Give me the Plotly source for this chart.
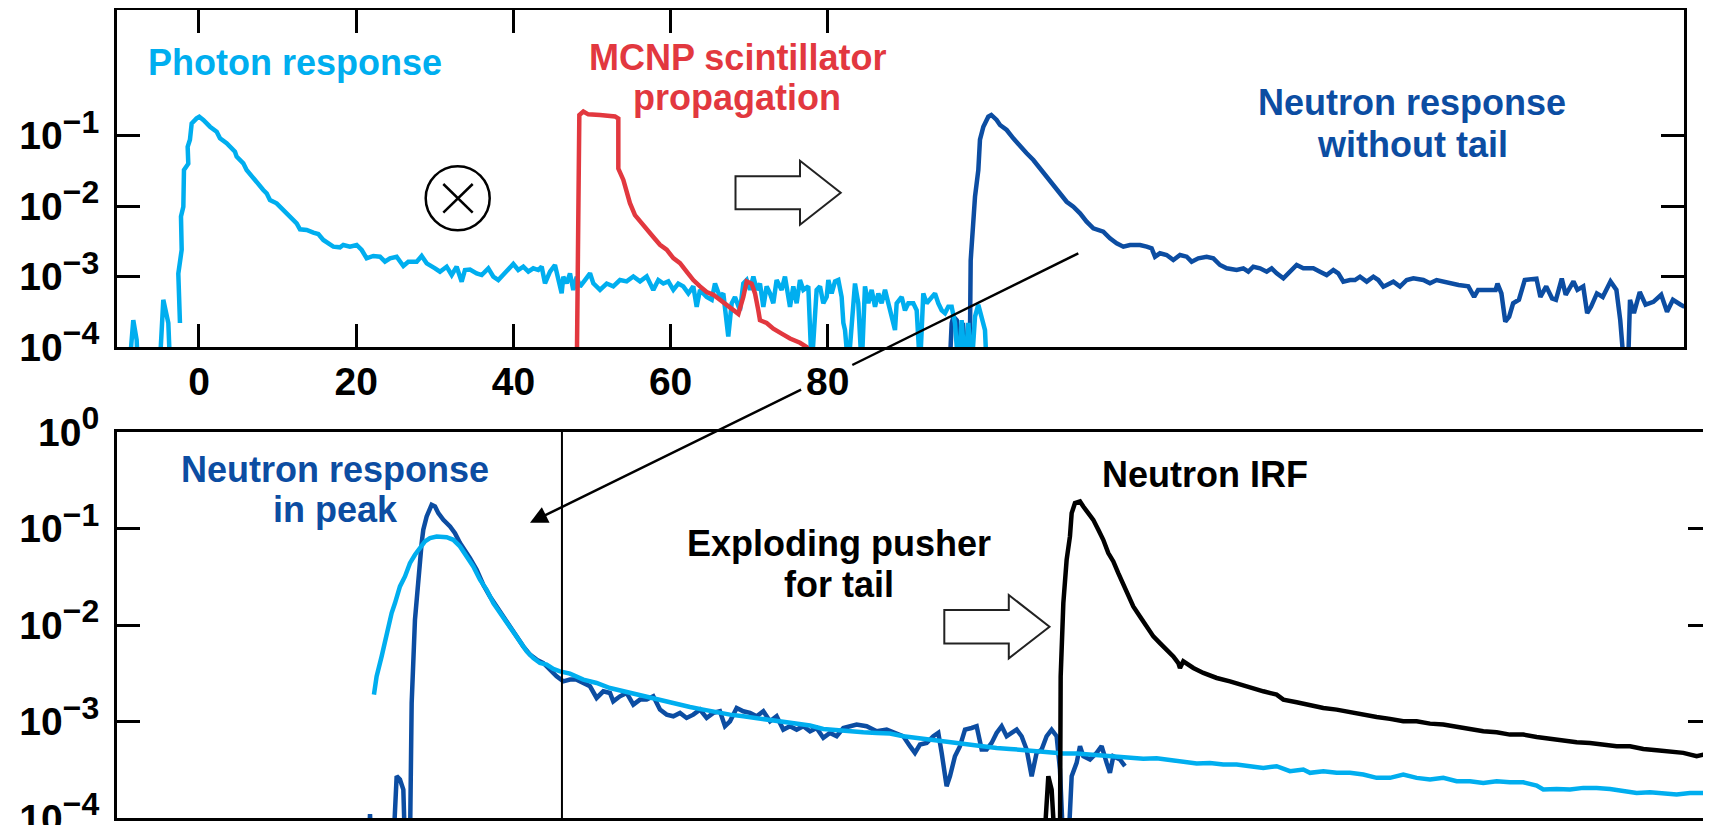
import plotly.graph_objects as go

# ---------------- data (x in ns, y given as log10 of the normalized response) ----------------
photon_x = [-9.0, -8.36, -7.93, -7.7, -5.1, -4.54, -3.9, -3.6, None,
            -2.42, -2.63, -2.2, -2.29, -1.99, -1.91, -1.36, -1.44, -1.15, -0.93, -0.3, 0.04, 0.55, 1.4,
            2.25, 2.67, 3.52, 4.58, 4.79, 5.64, 6.06, 6.91, 7.34, 8.18, 8.61, 9.03, 9.88, 10.73, 11.58,
            12.43, 12.85, 13.7, 14.55, 15.18, 15.82, 16.45, 17.09, 17.94, 18.36, 19.21, 20.06, 20.7,
            21.33, 22.18, 23.03, 23.66, 24.3, 25.15, 26.0, 26.63, 27.7, 28.33, 28.97, 30.03, 30.66,
            31.51, 32.15, 32.78, 33.42, 33.84, 34.48, 35.33, 35.97, 36.81, 37.45, 38.08, 38.72, 39.57,
            39.99, 40.62, 41.26, 41.9, 42.53, 43.17, 43.6, 44.02, 44.66, 45.29, 45.71, 46.14, 46.35,
            46.78, 47.2, 47.62, 48.05, 48.47, 49.11, 49.75, 50.17, 50.6,
            51.02, 51.87, 52.71, 53.56, 54.41, 55.26, 56.11, 56.96, 57.80, 58.44, 59.08, 59.71, 60.35,
            60.98, 61.62, 62.26, 62.89, 63.32, 63.74, 64.59, 65.23, 65.65, 66.28, 66.71, 67.13, 67.34,
            67.77, 68.19, 68.83, 69.25, 69.68, 70.10, 70.53, 70.95, 71.37, 71.80, 72.22, 72.65, 73.07,
            73.49, 74.13, 74.55, 75.19, 75.61, 76.04, 76.46, 76.89, 77.52, 77.95, 78.37, 78.58, 79.01,
            79.43, 79.86, 80.07, 80.49, 80.92, 81.34, 81.76, 81.98, 82.19, 82.61, 83.04, 83.46, 83.88,
            84.31, 84.73, 85.16, 85.58, 86.01, 86.43, 86.85, 87.28, 87.70, 88.13, 88.55, 88.76, 89.40,
            89.82, 90.25, 90.88, 91.31, 91.73, 92.15, 92.58, 93.21, 93.64, 94.06, 94.49, 94.91, 95.33,
            95.76, 96.18, 96.61, 97.03, 97.46, 97.88, 98.30, 98.73, 99.15, 99.58, 100.0, 100.21]
photon_log10 = [-4.5, -3.62, -3.90, -4.5, -4.5, -3.33, -3.66, -4.5, None,
                -3.66, -2.96, -2.62, -2.15, -2.01, -1.49, -1.40, -1.16, -1.06, -0.83, -0.757, -0.733,
                -0.78, -0.875, -0.946, -1.04, -1.11, -1.23, -1.30, -1.395, -1.489, -1.607, -1.678,
                -1.773, -1.82, -1.915, -1.962, -2.057, -2.151, -2.246, -2.331, -2.34, -2.378, -2.397,
                -2.482, -2.539, -2.577, -2.586, -2.553, -2.577, -2.553, -2.624, -2.742, -2.709, -2.719,
                -2.79, -2.742, -2.719, -2.851, -2.79, -2.79, -2.709, -2.813, -2.884, -2.932, -2.861,
                -2.979, -2.861, -3.074, -2.908, -2.90, -2.955, -2.979, -2.884, -3.003, -3.05, -2.979,
                -2.884, -2.823, -2.908, -2.861, -2.932, -2.884, -2.908, -2.861, -3.097, -2.932, -2.837,
                -3.05, -3.239, -3.003, -3.097, -2.955, -3.191, -3.003, -3.144, -3.05, -2.955, -3.097,
                -3.144,
                -3.19, -3.10, -3.14, -3.05, -3.07, -3.00, -3.07, -3.00, -3.19, -3.05, -3.10, -3.07,
                -3.19, -3.10, -3.14, -3.24, -3.14, -3.43, -3.19, -3.29, -3.33, -3.10, -3.29, -3.24,
                -3.66, -3.85, -3.38, -3.29, -3.48, -3.10, -3.05, -3.19, -3.00, -3.19, -3.10, -3.43,
                -3.14, -3.24, -3.38, -3.05, -3.19, -3.00, -3.43, -3.14, -3.38, -3.05, -3.19, -3.14,
                -4.3, -3.66, -3.19, -3.14, -3.38, -3.29, -3.05, -3.24, -3.07, -3.05, -3.29, -3.66,
                -3.76, -4.3, -3.66, -3.10, -3.38, -4.3, -3.14, -3.38, -3.19, -3.43, -3.24, -3.38,
                -3.19, -3.38, -3.57, -3.76, -3.38, -3.29, -3.48, -3.38, -3.38, -3.48, -4.3, -3.24,
                -3.38, -3.29, -3.24, -3.38, -3.48, -3.52, -3.43, -3.43, -3.66, -4.3, -3.62, -4.3,
                -3.66, -4.3, -3.57, -3.40, -3.57, -3.76, -4.3]

mcnp_x = [48.05, 48.39, 48.9, 49.53, 51.02, 51.65, 52.93, 53.35, 53.35, 53.99, 54.41, 54.83, 55.47,
          56.32, 56.96, 57.80, 58.65, 59.50, 60.35, 61.20, 62.04, 62.89, 63.74, 64.59, 65.44, 66.28,
          67.13, 67.98, 68.62, 69.25, 69.68, 70.31, 70.74, 71.16, 71.37, 72.22, 73.07, 74.13, 75.19,
          76.46, 77.31, 78.0]
mcnp_log10 = [-4.5, -0.71, -0.66, -0.70, -0.71, -0.72, -0.73, -0.76, -1.47, -1.63, -1.82, -1.96,
              -2.13, -2.25, -2.34, -2.44, -2.55, -2.62, -2.74, -2.81, -2.93, -3.05, -3.14, -3.22,
              -3.26, -3.33, -3.40, -3.48, -3.53, -3.29, -3.07, -3.10, -3.24, -3.48, -3.62, -3.66,
              -3.74, -3.81, -3.88, -3.94, -4.0, -4.2]

neutron_x = [95.5, 95.76, 96.0, 96.4, 96.8, 97.2, 97.6, 98.05, 98.18, 98.73, 99.15, 99.36, 99.79,
             100.42, 100.8, 101.48, 101.91, 102.76, 103.6, 104.45, 105.3, 106.15, 107.0, 107.84,
             108.69, 109.54, 110.39, 111.24, 112.09, 112.93, 113.78, 115.05, 115.90, 116.75, 117.60,
             118.45, 119.72, 120.57, 121.20, 121.63, 122.26, 123.11, 123.96, 124.81, 125.66, 126.29,
             127.14, 128.20, 129.05, 129.90, 130.75, 132.02, 132.87, 133.50, 134.14, 134.99, 135.84,
             136.47, 137.11, 137.96, 138.80, 139.65, 140.50, 141.77, 142.62, 143.47, 144.32, 144.95,
             145.59, 146.44, 147.07, 147.71, 148.56, 149.41, 150.04, 150.68, 151.95, 152.80, 153.65,
             154.50, 155.77, 156.61, 157.46, 158.31, 159.16, 160.25, 161.49, 162.23, 162.73, 164.21,
             164.96, 165.2, 165.7, 166.19, 166.69, 167.19, 167.93, 168.67, 170.16, 170.66, 171.40,
             172.14, 172.64, 173.38, 173.88, 174.87, 175.37, 176.11, 176.61, 177.10, 177.85, 178.59,
             179.58, 180.33, 180.82, 181.32, 181.81, 182.06, 182.56, 183.30, 184.04, 185.04, 186.03,
             186.77, 187.52, 188.51, 189.0]
neutron_log10 = [-4.3, -3.66, -3.57, -3.62, -4.3, -3.66, -4.3, -4.3, -2.77, -1.87, -1.49, -1.06,
                 -0.875, -0.733, -0.709, -0.78, -0.851, -0.922, -1.04, -1.158, -1.253, -1.348,
                 -1.466, -1.584, -1.726, -1.82, -1.94, -2.01, -2.104, -2.222, -2.317, -2.364, -2.459,
                 -2.53, -2.577, -2.553, -2.553, -2.577, -2.6, -2.719, -2.671, -2.695, -2.766, -2.695,
                 -2.719, -2.79, -2.742, -2.719, -2.742, -2.837, -2.884, -2.908, -2.884, -2.932,
                 -2.861, -2.884, -2.932, -2.884, -2.955, -3.026, -2.932, -2.837, -2.884, -2.884,
                 -2.932, -2.979, -2.908, -2.955, -3.073, -3.05, -3.05, -3.003, -3.073, -3.003, -3.05,
                 -3.144, -3.073, -3.144, -3.05, -3.026, -3.05, -3.097, -3.05, -3.073, -3.097, -3.12,
                 -3.14, -3.29, -3.19, -3.20, -3.19, -3.10, -3.24, -3.64, -3.57, -3.38, -3.33, -3.05,
                 -3.03, -3.29, -3.14, -3.31, -3.33, -3.03, -3.26, -3.07, -3.19, -3.14, -3.52, -3.43,
                 -3.24, -3.29, -3.07, -3.19, -3.62, -4.3, -4.3, -3.33, -3.52, -3.22, -3.40, -3.36,
                 -3.26, -3.50, -3.33, -3.40, -3.43]

# bottom panel
peak_x = [21.6, 21.76, 21.95, 24.72, 25.15, 25.57, 26.0, 26.21, 26.84, 27.06, 27.48, 27.91, 28.12,
          28.33, 28.54, 28.97, 29.60, 30.03, 30.45, 31.09, 31.94, 32.57, 33.21, 33.84, 34.48, 35.33,
          36.17, 37.02, 37.87, 38.72, 39.57, 40.42, 41.26, 42.11, 42.96, 43.81, 44.66, 45.50, 46.35,
          47.20, 48.05, 48.90, 49.75, 50.59, 51.44, 52.29, 52.71, 53.56, 54.41, 55.26, 56.11, 56.96,
          57.80, 58.65, 59.50, 60.35, 61.20, 62.04, 62.89, 63.74, 64.59, 65.44, 66.28, 66.92, 67.56,
          68.41, 69.25, 70.10, 70.95, 71.80, 72.65, 73.49, 74.34, 75.19, 76.04, 76.89, 77.74, 78.58,
          79.43, 80.28, 81.13, 81.98, 82.82, 83.67, 84.94, 86.22, 87.49, 88.76, 89.61, 90.46, 91.09,
          91.73, 92.58, 93.43, 94.06, 94.49, 95.12, 95.55, 96.18, 96.82, 97.46, 98.30, 98.94, 99.58,
          100.21, 100.85, 101.48, 102.12, 102.76, 103.39, 104.03, 104.66, 105.30, 105.94, 106.57,
          107.21, 107.84, 108.48, 109.12, 109.54, 109.97, 110.60, 111.03, 111.66, 112.09, 112.51,
          113.36, 114.21, 114.84, 115.48, 115.90, 116.33, 117.18, 117.81]
peak_log10 = [-4.3, -3.96, -4.3, -4.3, -3.567, -3.601, -3.705, -4.3, -4.3, -2.808, -1.945, -1.531,
              -1.255, -1.151, -1.013, -0.875, -0.755, -0.772, -0.841, -0.91, -0.979, -1.048, -1.151,
              -1.22, -1.307, -1.428, -1.583, -1.704, -1.807, -1.928, -2.031, -2.135, -2.221, -2.307,
              -2.359, -2.394, -2.463, -2.532, -2.584, -2.566, -2.566, -2.601, -2.635, -2.756, -2.687,
              -2.704, -2.791, -2.739, -2.704, -2.825, -2.773, -2.773, -2.739, -2.877, -2.929, -2.946,
              -2.911, -2.963, -2.929, -2.877, -2.963, -2.911, -2.894, -3.049, -2.998, -2.86, -2.894,
              -2.911, -2.946, -2.894, -2.998, -2.946, -3.084, -3.049, -3.084, -3.049, -3.101, -3.067,
              -3.17, -3.118, -3.153, -3.067, -3.049, -3.032, -3.049, -3.101, -3.084, -3.118, -3.153,
              -3.256, -3.325, -3.239, -3.222, -3.153, -3.118, -3.325, -3.67, -3.567, -3.36, -3.256,
              -3.084, -3.067, -3.049, -3.291, -3.291, -3.222, -3.118, -3.049, -3.153, -3.118, -3.084,
              -3.153, -3.291, -3.567, -3.325, -3.291, -3.153, -3.084, -3.153, -3.498, -4.3, -4.3,
              -3.567, -3.429, -3.256, -3.36, -3.394, -3.325, -3.256, -3.429, -3.532, -3.36, -3.394,
              -3.463]

pusher_x = [22.26, 22.60, 23.24, 23.88, 24.51, 24.94, 25.57, 26.21, 26.84, 27.48, 28.12, 28.75, 29.39,
            30.24, 31.51, 32.36, 33.21, 34.05, 34.90, 35.75, 36.60, 37.45, 38.30, 39.14, 39.99, 40.84,
            41.69, 42.54, 43.38, 44.23, 45.08, 45.93, 47.2, 48.9, 50.59, 52.29, 53.99, 55.68, 57.38,
            59.08, 60.77, 62.47, 64.16, 65.86, 67.56, 69.25, 70.95, 72.65, 74.34, 76.04, 77.74, 79.43,
            81.13, 82.82, 84.52, 86.22, 87.91, 89.61, 91.31, 93.0, 94.70, 96.40, 98.09, 99.79, 101.48,
            103.18, 104.88, 106.57, 108.27, 109.97, 111.66, 113.36, 115.05, 116.75, 118.45, 120.14,
            121.84, 123.54, 125.23, 126.93, 128.63, 130.32, 132.02, 133.72, 135.41, 137.11, 138.80,
            140.50, 141.35, 143.05, 144.74, 146.44, 148.13, 149.83, 151.53, 153.22, 154.92, 156.62,
            158.31, 160.01, 161.70, 163.40, 165.10, 166.79, 168.49, 170.19, 171.03, 172.73, 174.43,
            176.12, 177.82, 179.52, 181.21, 182.91, 184.61, 186.30, 188.0, 189.69, 191.39, 192.37]
pusher_log10 = [-2.722, -2.532, -2.325, -2.083, -1.876, -1.773, -1.6, -1.497, -1.359, -1.272, -1.203,
                -1.134, -1.1, -1.083, -1.09, -1.117, -1.186, -1.29, -1.393, -1.531, -1.635, -1.773,
                -1.876, -1.98, -2.083, -2.187, -2.273, -2.342, -2.394, -2.411, -2.456, -2.48, -2.504,
                -2.566, -2.601, -2.653, -2.687, -2.722, -2.756, -2.791, -2.825, -2.849, -2.877,
                -2.904, -2.929, -2.946, -2.963, -2.987, -3.008, -3.022, -3.042, -3.077, -3.091,
                -3.101, -3.111, -3.118, -3.125, -3.153, -3.17, -3.187, -3.215, -3.229, -3.239,
                -3.256, -3.274, -3.284, -3.298, -3.308, -3.319, -3.332, -3.332, -3.343, -3.353,
                -3.367, -3.367, -3.387, -3.38, -3.401, -3.422, -3.436, -3.43, -3.446, -3.446, -3.463,
                -3.481, -3.463, -3.515, -3.498, -3.532, -3.515, -3.532, -3.532, -3.55, -3.584, -3.584,
                -3.55, -3.584, -3.601, -3.584, -3.619, -3.619, -3.636, -3.619, -3.63, -3.63, -3.664,
                -3.705, -3.70, -3.705, -3.688, -3.688, -3.70, -3.722, -3.74, -3.733, -3.74, -3.757,
                -3.74, -3.74, -3.722]

irf_x = [107.5, 108.06, 108.48, 108.91, 109.54, 109.63, 109.97, 110.39, 110.81, 111.03, 111.45, 112.09,
         112.51, 113.15, 113.78, 114.42, 115.05, 115.69, 116.33, 116.96, 117.60, 118.24, 118.87,
         119.72, 120.57, 121.42, 122.26, 123.11, 123.96, 124.60, 124.81, 125.23, 126.51, 127.78,
         129.48, 131.17, 132.87, 133.72, 135.41, 137.11, 137.96, 139.65, 141.35, 143.05, 144.74,
         146.44, 148.13, 149.83, 151.53, 153.22, 154.92, 156.62, 158.31, 160.01, 161.70, 163.40,
         165.10, 166.79, 168.49, 170.19, 171.88, 173.58, 175.28, 176.97, 178.67, 180.37, 182.06,
         183.76, 185.46, 187.15, 188.85, 190.54, 192.37]
irf_log10 = [-4.3, -3.567, -3.705, -4.3, -4.3, -2.532, -1.773, -1.324, -1.083, -0.841, -0.737, -0.72,
             -0.772, -0.841, -0.91, -1.013, -1.117, -1.255, -1.341, -1.462, -1.583, -1.704, -1.807,
             -1.911, -2.014, -2.118, -2.187, -2.256, -2.325, -2.394, -2.445, -2.376, -2.445, -2.497,
             -2.549, -2.584, -2.628, -2.653, -2.687, -2.722, -2.773, -2.801, -2.835, -2.86, -2.877,
             -2.904, -2.929, -2.953, -2.973, -2.998, -2.998, -3.022, -3.032, -3.049, -3.077, -3.101,
             -3.111, -3.136, -3.136, -3.16, -3.18, -3.194, -3.215, -3.222, -3.239, -3.256, -3.256,
             -3.284, -3.298, -3.308, -3.325, -3.36, -3.325]

peak_divider_x = 46.18

top_xticks = [0, 20, 40, 60, 80]
top_ytick_vals = [1e-4, 1e-3, 1e-2, 1e-1]
top_ytick_exp = ["−4", "−3", "−2", "−1"]
bot_ytick_vals = [1e-4, 1e-3, 1e-2, 1e-1, 1e0]
bot_ytick_exp = ["−4", "−3", "−2", "−1", "0"]
inner_ytick_vals = [1e-3, 1e-2, 1e-1]

# ---------------- styling ----------------
LIGHT = "#00aeef"
DARK = "#0c4da2"
RED = "#e2383f"
BLACK = "#000000"
FONT = "Liberation Sans, Arial, Helvetica, sans-serif"
LW = 4.5

PAGE_OFFSET = 8                    # the page body offsets the figure by 8 px
L, T, W, H = 117, 10, 1594, 808    # plot area in picture pixels
FIG_W, FIG_H = 1711 - PAGE_OFFSET, 825 - PAGE_OFFSET


def px(X):
    return (X - L) / W


def py(Y):
    return (T + H - Y) / H


def lin(v):
    return [None if a is None else 10 ** a for a in v]


def pow_label(e):
    return f"10<sup><span style='font-size:32px'>{e}</span></sup>"


fig = go.Figure()
fig.add_trace(go.Scatter(x=neutron_x, y=lin(neutron_log10), mode="lines",
                         line=dict(color=DARK, width=LW), xaxis="x", yaxis="y"))
fig.add_trace(go.Scatter(x=photon_x, y=lin(photon_log10), mode="lines",
                         line=dict(color=LIGHT, width=LW), xaxis="x", yaxis="y"))
fig.add_trace(go.Scatter(x=mcnp_x, y=lin(mcnp_log10), mode="lines",
                         line=dict(color=RED, width=LW), xaxis="x", yaxis="y"))
fig.add_trace(go.Scatter(x=peak_x, y=lin(peak_log10), mode="lines",
                         line=dict(color=DARK, width=LW), xaxis="x2", yaxis="y2"))
fig.add_trace(go.Scatter(x=pusher_x, y=lin(pusher_log10), mode="lines",
                         line=dict(color=LIGHT, width=LW), xaxis="x2", yaxis="y2"))
fig.add_trace(go.Scatter(x=irf_x, y=lin(irf_log10), mode="lines",
                         line=dict(color=BLACK, width=LW), xaxis="x2", yaxis="y2"))
# empty trace that carries the right-hand tick axis of the lower panel
fig.add_trace(go.Scatter(x=[], y=[], mode="lines", xaxis="x2", yaxis="y3", hoverinfo="skip"))

tickfont = dict(family=FONT, size=39, color="black", weight="bold")
base = dict(showgrid=False, zeroline=False, automargin=False, tickcolor="black",
            linecolor="black", linewidth=3, tickfont=tickfont, ticklen=23, tickwidth=3,
            ticklabeloverflow="allow")

fig.update_layout(
    width=FIG_W, height=FIG_H,
    margin=dict(l=L - PAGE_OFFSET, r=0, t=T - PAGE_OFFSET, b=825 - T - H, autoexpand=False),
    paper_bgcolor="white", plot_bgcolor="white",
    showlegend=False,
    xaxis=dict(domain=[0, px(1684)], range=[-10.43, 188.93], anchor="y", ticks="inside",
               tickvals=top_xticks, showline=True, mirror="ticks",
               ticklabelstandoff=-2, **base),
    yaxis=dict(domain=[py(347), 1], type="log", range=[-4, 0.78], anchor="x", ticks="inside",
               tickvals=top_ytick_vals, ticktext=[pow_label(e) for e in top_ytick_exp],
               showline=True, mirror="ticks", ticklabelstandoff=7, **base),
    xaxis2=dict(domain=[0, 1], range=[-10.43, 192.37], anchor="y2", ticks="",
                showticklabels=False, showline=True, mirror=True, **base),
    yaxis2=dict(domain=[0, py(432)], type="log", range=[-4, 0], anchor="x2", ticks="inside",
                tickvals=bot_ytick_vals, ticktext=[pow_label(e) for e in bot_ytick_exp],
                showline=True, mirror=False, ticklabelstandoff=7, **base),
    yaxis3=dict(overlaying="y2", side="right", anchor="x2", type="log", range=[-4, 0],
                ticks="inside", tickvals=inner_ytick_vals, showticklabels=False,
                showline=False, **base),
)

shapes = []
# divider line in lower panel
shapes.append(dict(type="line", xref="x2", yref="y2 domain", x0=peak_divider_x, x1=peak_divider_x,
                   y0=0, y1=1, line=dict(color="black", width=2)))
# convolution symbol
shapes.append(dict(type="circle", xref="paper", yref="paper", x0=px(425.7), x1=px(489.7),
                   y0=py(230.3), y1=py(166.3), line=dict(color="black", width=2.5)))
shapes.append(dict(type="line", xref="paper", yref="paper", x0=px(443.3), y0=py(184),
                   x1=px(472.7), y1=py(212.7), line=dict(color="black", width=2.5)))
shapes.append(dict(type="line", xref="paper", yref="paper", x0=px(443.3), y0=py(212.7),
                   x1=px(472.7), y1=py(184), line=dict(color="black", width=2.5)))


def hollow_arrow(x0, xb, xt, yc, hb, hh):
    pts = [(x0, yc - hb), (xb, yc - hb), (xb, yc - hh), (xt, yc), (xb, yc + hh), (xb, yc + hb),
           (x0, yc + hb)]
    return "M " + " L ".join(f"{px(a):.5f},{py(b):.5f}" for a, b in pts) + " Z"


shapes.append(dict(type="path", xref="paper", yref="paper",
                   path=hollow_arrow(735.5, 800, 840.7, 192.7, 16.5, 32),
                   line=dict(color="#222", width=2), fillcolor="white"))
shapes.append(dict(type="path", xref="paper", yref="paper",
                   path=hollow_arrow(944.3, 1008.8, 1049.5, 626.7, 16.7, 31.7),
                   line=dict(color="#222", width=2), fillcolor="white"))
# link line (first segment, interrupted at the "80" label)
shapes.append(dict(type="line", xref="paper", yref="paper", x0=px(1078.3), y0=py(253.3),
                   x1=px(852.3), y1=py(365), line=dict(color="black", width=2.5)))
fig.update_layout(shapes=shapes)


def label(text, X, Y, color):
    return dict(text=text, xref="paper", yref="paper", x=px(X), y=py(Y), xanchor="center",
                yanchor="middle", showarrow=False,
                font=dict(family=FONT, size=36, color=color, weight="bold"))


annotations = [
    label("Photon response", 295, 62.5, LIGHT),
    label("MCNP scintillator", 737, 57.5, RED),
    label("propagation", 737, 98, RED),
    label("Neutron response", 1412, 102.5, DARK),
    label("without tail", 1412, 144.5, DARK),
    label("Neutron response", 335, 469.5, DARK),
    label("in peak", 335, 509, DARK),
    label("Neutron IRF", 1204.5, 475, BLACK),
    label("Exploding pusher", 839, 543.5, BLACK),
    label("for tail", 838.6, 584.5, BLACK),
    dict(text="", xref="paper", yref="paper", x=px(530), y=py(522.7), ax=802.6 - 530,
         ay=389 - 522.7, axref="pixel", ayref="pixel", showarrow=True, arrowhead=2,
         arrowsize=1.4, arrowwidth=2.5, arrowcolor="black", standoff=0),
]
fig.update_layout(annotations=annotations)

fig.write_html("out.html")
